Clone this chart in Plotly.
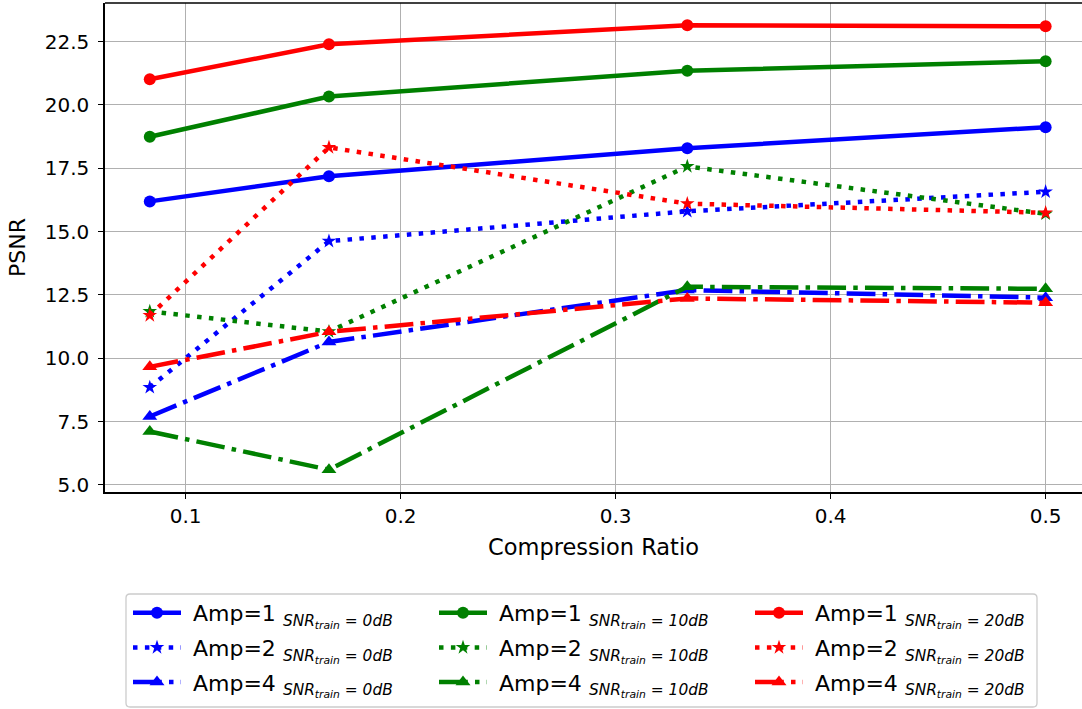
import plotly.graph_objects as go

# Compression ratios on the x axis
ratios = [1 / 12, 1 / 6, 1 / 3, 1 / 2]

# PSNR per training SNR (0, 10, 20 dB) and amplitude (1, 2, 4)
psnr_0db_amp1 = [16.19, 17.18, 18.29, 19.12]
psnr_0db_amp2 = [8.85, 14.62, 15.80, 16.57]
psnr_0db_amp4 = [7.70, 10.64, 12.69, 12.39]

psnr_10db_amp1 = [18.74, 20.33, 21.35, 21.72]
psnr_10db_amp2 = [11.85, 11.05, 17.57, 15.70]
psnr_10db_amp4 = [7.11, 5.60, 12.82, 12.74]

psnr_20db_amp1 = [21.01, 22.39, 23.14, 23.10]
psnr_20db_amp2 = [11.69, 18.32, 16.10, 15.74]
psnr_20db_amp4 = [9.66, 11.04, 12.36, 12.19]

snr_labels = ["0dB", "10dB", "20dB"]
amps = [1, 2, 4]

x_ticks = [0.1, 0.2, 0.3, 0.4, 0.5]
x_tick_text = ["0.1", "0.2", "0.3", "0.4", "0.5"]
y_ticks = [5.0, 7.5, 10.0, 12.5, 15.0, 17.5, 20.0, 22.5]
y_tick_text = ["5.0", "7.5", "10.0", "12.5", "15.0", "17.5", "20.0", "22.5"]

series = [
    [psnr_0db_amp1, psnr_0db_amp2, psnr_0db_amp4],
    [psnr_10db_amp1, psnr_10db_amp2, psnr_10db_amp4],
    [psnr_20db_amp1, psnr_20db_amp2, psnr_20db_amp4],
]
colors = ["#0000ff", "#008000", "#ff0000"]
legend_ids = ["legend", "legend2", "legend3"]

LW = 4.5
styles = [
    dict(dash="solid", symbol="circle", size=12),
    dict(dash="4.5px,7.4px", symbol="star", size=11),
    dict(dash="28.8px,7.2px,4.5px,7.2px", symbol="triangle-up", size=13),
]

FONT = "DejaVu Sans"

fig = go.Figure()
for si, (group, color, lg) in enumerate(zip(series, colors, legend_ids)):
    for ai, (vals, st) in enumerate(zip(group, styles)):
        name = (
            f"&nbsp;Amp={amps[ai]} <sub><i>SNR<sub>train</sub></i> = "
            f"<i>{snr_labels[si]}</i></sub>"
        )
        fig.add_trace(
            go.Scatter(
                x=ratios,
                y=vals,
                mode="lines+markers",
                name=name,
                legend=lg,
                legendgroup=f"g{si}{ai}",
                line=dict(color=color, width=LW, dash=st["dash"]),
                marker=dict(color=color, symbol=st["symbol"], size=st["size"],
                            line=dict(width=0)),
            )
        )

# pixel helpers for paper coordinates (plot area: x 105..1082, y 3..492)
def px_x(px):
    return (px - 105) / 977


def px_y(py):
    return (492 - py) / 489


legend_common = dict(
    bgcolor="rgba(0,0,0,0)",
    borderwidth=0,
    font=dict(family=FONT, size=22, color="black"),
    itemwidth=48,
    tracegroupgap=3,
    xanchor="left",
    yanchor="top",
    orientation="v",
)

# rounded legend frame
x0, x1 = px_x(126), px_x(1037)
y0, y1 = px_y(707), px_y(594)
rx, ry = 4 / 977, 4 / 489
frame = (
    f"M{x0 + rx},{y1} L{x1 - rx},{y1} Q{x1},{y1} {x1},{y1 - ry} "
    f"L{x1},{y0 + ry} Q{x1},{y0} {x1 - rx},{y0} L{x0 + rx},{y0} "
    f"Q{x0},{y0} {x0},{y0 + ry} L{x0},{y1 - ry} Q{x0},{y1} {x0 + rx},{y1} Z"
)

fig.update_layout(
    width=1082,
    height=709,
    margin=dict(l=105, r=0, t=3, b=217),
    paper_bgcolor="white",
    plot_bgcolor="white",
    font=dict(family=FONT, size=20, color="black"),
    showlegend=True,
    xaxis=dict(
        range=[0.0625, 0.0625 + 977 / 2150],
        tickvals=x_ticks,
        ticktext=x_tick_text,
        showgrid=True,
        gridcolor="#b0b0b0",
        gridwidth=1.3,
        showline=True,
        linecolor="black",
        linewidth=1.5,
        ticks="outside",
        ticklen=5,
        tickwidth=1.3,
        tickcolor="black",
        tickfont=dict(family=FONT, size=20),
        zeroline=False,
        title=dict(text="Compression Ratio", font=dict(family=FONT, size=22.5), standoff=12),
    ),
    yaxis=dict(
        range=[4.72, 24.02],
        tickvals=y_ticks,
        ticktext=y_tick_text,
        showgrid=True,
        gridcolor="#b0b0b0",
        gridwidth=1.3,
        showline=True,
        linecolor="black",
        linewidth=1.5,
        ticks="outside",
        ticklen=5,
        tickwidth=1.3,
        tickcolor="black",
        ticklabelstandoff=5,
        tickfont=dict(family=FONT, size=20),
        zeroline=False,
        title=dict(text="PSNR", font=dict(family=FONT, size=22), standoff=13),
    ),
    legend=dict(x=px_x(128), y=px_y(592), **legend_common),
    legend2=dict(x=px_x(434), y=px_y(592), **legend_common),
    legend3=dict(x=px_x(750), y=px_y(592), **legend_common),
    shapes=[
        dict(type="line", xref="paper", yref="paper", x0=0, x1=1, y0=1, y1=1,
             line=dict(color="black", width=1.5)),
        dict(type="path", xref="paper", yref="paper", path=frame,
             line=dict(color="#cccccc", width=1.3), fillcolor="white", layer="below"),
    ],
)

fig.write_html("out.html")
